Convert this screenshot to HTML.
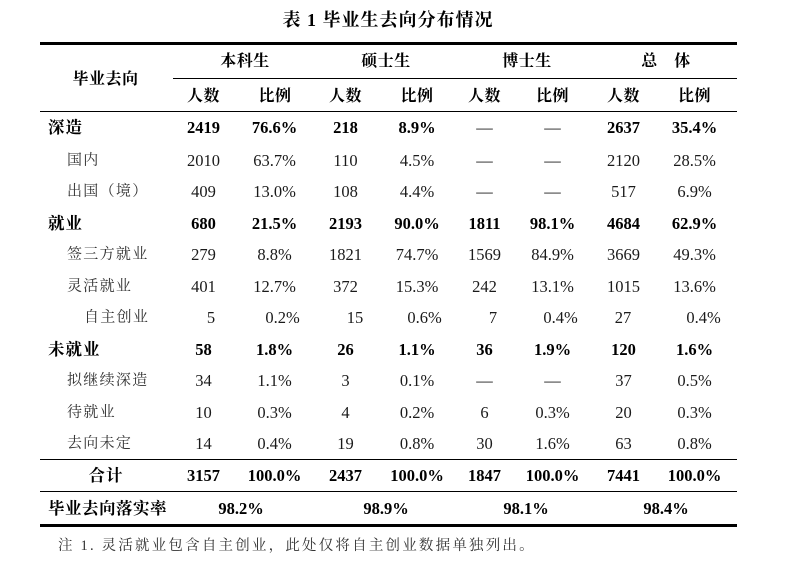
<!DOCTYPE html>
<html>
<head>
<meta charset="utf-8">
<style>
html,body{margin:0;padding:0;background:#fff;}
body{width:786px;height:564px;position:relative;overflow:hidden;font-family:"Liberation Serif","Noto Serif CJK SC",serif;color:#111;}
.c{position:absolute;transform:translate(-50%,-50%);white-space:nowrap;line-height:1;font-size:16.5px;color:#1a1a1a;}
.l{position:absolute;transform:translateY(-50%);white-space:nowrap;line-height:1;}
.b{font-weight:bold;color:#000;}
.h{font-weight:bold;font-size:16px;letter-spacing:0.5px;color:#000;}
.lab{font-size:15px;letter-spacing:1.3px;color:#333;}
.blab{font-size:16.5px;font-weight:bold;letter-spacing:1px;color:#000;}
.line{position:absolute;background:#000;}
</style>
</head>
<body>
<div class="c b" style="left:388px;top:20px;font-size:18px;letter-spacing:1px;">表 1 毕业生去向分布情况</div>

<div class="line" style="left:40px;top:42px;width:697px;height:3px;"></div>
<div class="line" style="left:173px;top:78px;width:564px;height:1.3px;"></div>
<div class="line" style="left:40px;top:110.5px;width:697px;height:1.5px;"></div>
<div class="line" style="left:40px;top:458.5px;width:697px;height:1.5px;"></div>
<div class="line" style="left:40px;top:490.5px;width:697px;height:1.5px;"></div>
<div class="line" style="left:40px;top:524px;width:697px;height:3px;"></div>

<!-- header -->
<div class="c h" style="left:105.5px;top:80px;">毕业去向</div>
<div class="c h" style="left:245px;top:62px;">本科生</div>
<div class="c h" style="left:386px;top:62px;">硕士生</div>
<div class="c h" style="left:527px;top:62px;">博士生</div>
<div class="c h" style="left:666px;top:62px;">总　体</div>

<div class="c h" style="left:203.5px;top:96.5px;">人数</div>
<div class="c h" style="left:275px;top:96.5px;">比例</div>
<div class="c h" style="left:345.5px;top:96.5px;">人数</div>
<div class="c h" style="left:417px;top:96.5px;">比例</div>
<div class="c h" style="left:484.5px;top:96.5px;">人数</div>
<div class="c h" style="left:552.5px;top:96.5px;">比例</div>
<div class="c h" style="left:623.5px;top:96.5px;">人数</div>
<div class="c h" style="left:694.5px;top:96.5px;">比例</div>

<!-- 深造 -->
<div class="l blab" style="left:48px;top:128px;">深造</div>
<div class="c b" style="left:203.5px;top:128px;">2419</div>
<div class="c b" style="left:274.5px;top:128px;">76.6%</div>
<div class="c b" style="left:345.5px;top:128px;">218</div>
<div class="c b" style="left:417px;top:128px;">8.9%</div>
<div class="c" style="left:484.5px;top:128px;">—</div>
<div class="c" style="left:552.5px;top:128px;">—</div>
<div class="c b" style="left:623.5px;top:128px;">2637</div>
<div class="c b" style="left:694.5px;top:128px;">35.4%</div>

<!-- 国内 -->
<div class="l lab" style="left:67px;top:160.5px;">国内</div>
<div class="c" style="left:203.5px;top:160.5px;">2010</div>
<div class="c" style="left:274.5px;top:160.5px;">63.7%</div>
<div class="c" style="left:345.5px;top:160.5px;">110</div>
<div class="c" style="left:417px;top:160.5px;">4.5%</div>
<div class="c" style="left:484.5px;top:160.5px;">—</div>
<div class="c" style="left:552.5px;top:160.5px;">—</div>
<div class="c" style="left:623.5px;top:160.5px;">2120</div>
<div class="c" style="left:694.5px;top:160.5px;">28.5%</div>

<!-- 出国 -->
<div class="l lab" style="left:67px;top:192px;">出国（境）</div>
<div class="c" style="left:203.5px;top:192px;">409</div>
<div class="c" style="left:274.5px;top:192px;">13.0%</div>
<div class="c" style="left:345.5px;top:192px;">108</div>
<div class="c" style="left:417px;top:192px;">4.4%</div>
<div class="c" style="left:484.5px;top:192px;">—</div>
<div class="c" style="left:552.5px;top:192px;">—</div>
<div class="c" style="left:623.5px;top:192px;">517</div>
<div class="c" style="left:694.5px;top:192px;">6.9%</div>

<!-- 就业 -->
<div class="l blab" style="left:48px;top:223.5px;">就业</div>
<div class="c b" style="left:203.5px;top:223.5px;">680</div>
<div class="c b" style="left:274.5px;top:223.5px;">21.5%</div>
<div class="c b" style="left:345.5px;top:223.5px;">2193</div>
<div class="c b" style="left:417px;top:223.5px;">90.0%</div>
<div class="c b" style="left:484.5px;top:223.5px;">1811</div>
<div class="c b" style="left:552.5px;top:223.5px;">98.1%</div>
<div class="c b" style="left:623.5px;top:223.5px;">4684</div>
<div class="c b" style="left:694.5px;top:223.5px;">62.9%</div>

<!-- 签三方就业 -->
<div class="l lab" style="left:67px;top:255px;">签三方就业</div>
<div class="c" style="left:203.5px;top:255px;">279</div>
<div class="c" style="left:274.5px;top:255px;">8.8%</div>
<div class="c" style="left:345.5px;top:255px;">1821</div>
<div class="c" style="left:417px;top:255px;">74.7%</div>
<div class="c" style="left:484.5px;top:255px;">1569</div>
<div class="c" style="left:552.5px;top:255px;">84.9%</div>
<div class="c" style="left:623.5px;top:255px;">3669</div>
<div class="c" style="left:694.5px;top:255px;">49.3%</div>

<!-- 灵活就业 -->
<div class="l lab" style="left:67px;top:286.5px;">灵活就业</div>
<div class="c" style="left:203.5px;top:286.5px;">401</div>
<div class="c" style="left:274.5px;top:286.5px;">12.7%</div>
<div class="c" style="left:345.5px;top:286.5px;">372</div>
<div class="c" style="left:417px;top:286.5px;">15.3%</div>
<div class="c" style="left:484.5px;top:286.5px;">242</div>
<div class="c" style="left:552.5px;top:286.5px;">13.1%</div>
<div class="c" style="left:623.5px;top:286.5px;">1015</div>
<div class="c" style="left:694.5px;top:286.5px;">13.6%</div>

<!-- 自主创业 -->
<div class="l lab" style="left:84px;top:318px;">自主创业</div>
<div class="c" style="left:211px;top:318px;">5</div>
<div class="c" style="left:282.5px;top:318px;">0.2%</div>
<div class="c" style="left:355px;top:318px;">15</div>
<div class="c" style="left:424.5px;top:318px;">0.6%</div>
<div class="c" style="left:493px;top:318px;">7</div>
<div class="c" style="left:560.5px;top:318px;">0.4%</div>
<div class="c" style="left:623px;top:318px;">27</div>
<div class="c" style="left:703.5px;top:318px;">0.4%</div>

<!-- 未就业 -->
<div class="l blab" style="left:48px;top:350px;">未就业</div>
<div class="c b" style="left:203.5px;top:350px;">58</div>
<div class="c b" style="left:274.5px;top:350px;">1.8%</div>
<div class="c b" style="left:345.5px;top:350px;">26</div>
<div class="c b" style="left:417px;top:350px;">1.1%</div>
<div class="c b" style="left:484.5px;top:350px;">36</div>
<div class="c b" style="left:552.5px;top:350px;">1.9%</div>
<div class="c b" style="left:623.5px;top:350px;">120</div>
<div class="c b" style="left:694.5px;top:350px;">1.6%</div>

<!-- 拟继续深造 -->
<div class="l lab" style="left:67px;top:381px;">拟继续深造</div>
<div class="c" style="left:203.5px;top:381px;">34</div>
<div class="c" style="left:274.5px;top:381px;">1.1%</div>
<div class="c" style="left:345.5px;top:381px;">3</div>
<div class="c" style="left:417px;top:381px;">0.1%</div>
<div class="c" style="left:484.5px;top:381px;">—</div>
<div class="c" style="left:552.5px;top:381px;">—</div>
<div class="c" style="left:623.5px;top:381px;">37</div>
<div class="c" style="left:694.5px;top:381px;">0.5%</div>

<!-- 待就业 -->
<div class="l lab" style="left:67px;top:412.5px;">待就业</div>
<div class="c" style="left:203.5px;top:412.5px;">10</div>
<div class="c" style="left:274.5px;top:412.5px;">0.3%</div>
<div class="c" style="left:345.5px;top:412.5px;">4</div>
<div class="c" style="left:417px;top:412.5px;">0.2%</div>
<div class="c" style="left:484.5px;top:412.5px;">6</div>
<div class="c" style="left:552.5px;top:412.5px;">0.3%</div>
<div class="c" style="left:623.5px;top:412.5px;">20</div>
<div class="c" style="left:694.5px;top:412.5px;">0.3%</div>

<!-- 去向未定 -->
<div class="l lab" style="left:67px;top:444px;">去向未定</div>
<div class="c" style="left:203.5px;top:444px;">14</div>
<div class="c" style="left:274.5px;top:444px;">0.4%</div>
<div class="c" style="left:345.5px;top:444px;">19</div>
<div class="c" style="left:417px;top:444px;">0.8%</div>
<div class="c" style="left:484.5px;top:444px;">30</div>
<div class="c" style="left:552.5px;top:444px;">1.6%</div>
<div class="c" style="left:623.5px;top:444px;">63</div>
<div class="c" style="left:694.5px;top:444px;">0.8%</div>

<!-- 合计 -->
<div class="c blab" style="left:106px;top:476px;">合计</div>
<div class="c b" style="left:203.5px;top:476px;">3157</div>
<div class="c b" style="left:274.5px;top:476px;">100.0%</div>
<div class="c b" style="left:345.5px;top:476px;">2437</div>
<div class="c b" style="left:417px;top:476px;">100.0%</div>
<div class="c b" style="left:484.5px;top:476px;">1847</div>
<div class="c b" style="left:552.5px;top:476px;">100.0%</div>
<div class="c b" style="left:623.5px;top:476px;">7441</div>
<div class="c b" style="left:694.5px;top:476px;">100.0%</div>

<!-- 落实率 -->
<div class="l blab" style="left:48px;top:509px;letter-spacing:0.5px;">毕业去向落实率</div>
<div class="c b" style="left:241px;top:509px;">98.2%</div>
<div class="c b" style="left:386px;top:509px;">98.9%</div>
<div class="c b" style="left:526px;top:509px;">98.1%</div>
<div class="c b" style="left:666px;top:509px;">98.4%</div>

<div class="l" style="left:58px;top:546px;font-size:14.5px;letter-spacing:2.2px;color:#333;">注 1. 灵活就业包含自主创业，此处仅将自主创业数据单独列出。</div>
</body>
</html>
